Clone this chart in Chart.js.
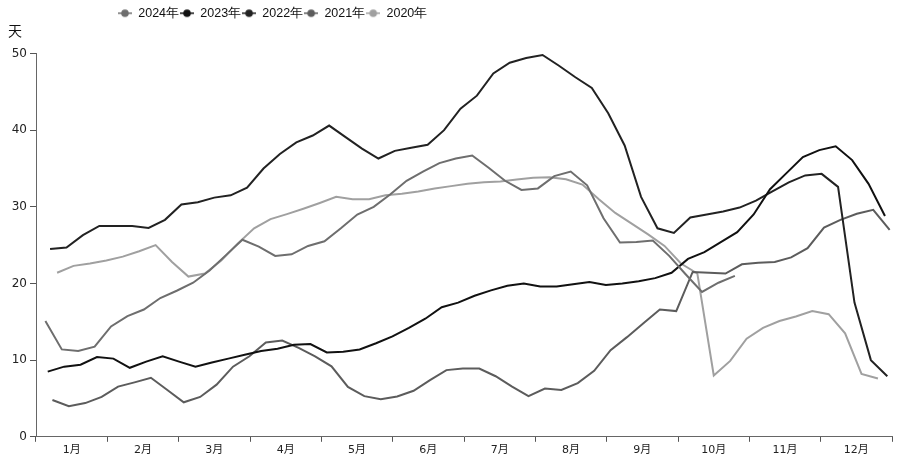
<!DOCTYPE html>
<html>
<head>
<meta charset="utf-8">
<script src="https://cdn.jsdelivr.net/npm/chart.js@4"></script>
<style>
  body { margin: 0; background: #fff; }
  #wrap { width: 900px; height: 461px; }
</style>
</head>
<body>
<div id="wrap"><canvas id="stockChart"></canvas></div>
<script>
const months = ['1月', '2月', '3月', '4月', '5月', '6月', '7月', '8月', '9月', '10月', '11月', '12月'];
const years = ['2024年', '2023年', '2022年', '2021年', '2020年'];
// first weekly observation of each year
const firstDates = ['2024-01-05', '2023-01-06', '2022-01-07', '2021-01-08', '2020-01-10'];
const yTicks = [0, 10, 20, 30, 40, 50];

const v2024 = [15.1, 11.4, 11.2, 11.75, 14.4, 15.75, 16.6, 18.1, 19.05, 20.1,
    21.7, 23.7, 25.7, 24.8, 23.6, 23.8, 24.9, 25.5, 27.2, 29.0,
    30.0, 31.6, 33.4, 34.6, 35.7, 36.3, 36.7, 35.1, 33.4, 32.2,
    32.4, 34.0, 34.6, 32.8, 28.5, 25.35, 25.4, 25.6, 23.6, 21.2,
    18.9, 20.1, 21.0];
const v2023 = [8.5, 9.15, 9.4, 10.4, 10.2, 9.0, 9.8, 10.5, 9.8, 9.15,
    9.7, 10.2, 10.7, 11.2, 11.5, 12.0, 12.1, 11.0, 11.1, 11.4,
    12.2, 13.1, 14.2, 15.4, 16.9, 17.5, 18.4, 19.1, 19.7, 20.0,
    19.6, 19.6, 19.9, 20.2, 19.8, 20.0, 20.3, 20.7, 21.4, 23.2,
    24.1, 25.4, 26.7, 29.0, 32.3, 34.4, 36.5, 37.4, 37.9, 36.1,
    33.0, 28.8];
const v2022 = [24.5, 24.7, 26.3, 27.5, 27.5, 27.5, 27.25, 28.3, 30.3, 30.6,
    31.2, 31.5, 32.5, 35.0, 36.9, 38.4, 39.3, 40.6, 39.1, 37.6,
    36.3, 37.3, 37.7, 38.1, 40.0, 42.8, 44.5, 47.4, 48.8, 49.4,
    49.8, 48.4, 46.9, 45.5, 42.2, 38.0, 31.3, 27.2, 26.6, 28.6,
    29.0, 29.4, 29.9, 30.8, 32.0, 33.2, 34.1, 34.3, 32.6, 17.5,
    10.0, 7.9];
const v2021 = [4.8, 4.0, 4.4, 5.2, 6.55, 7.1, 7.7, 6.1, 4.5, 5.2,
    6.8, 9.15, 10.5, 12.3, 12.55, 11.6, 10.5, 9.2, 6.5, 5.3,
    4.9, 5.25, 6.0, 7.4, 8.7, 8.9, 8.9, 7.9, 6.55, 5.3,
    6.3, 6.1, 7.0, 8.6, 11.3, 13.0, 14.8, 16.6, 16.4, 21.5,
    21.4, 21.3, 22.5, 22.7, 22.8, 23.4, 24.6, 27.3, 28.3, 29.1,
    29.6, 27.0];
const v2020 = [21.4, 22.3, 22.6, 23.0, 23.5, 24.2, 25.0, 22.8, 20.9, 21.3,
    23.0, 25.2, 27.2, 28.4, 29.05, 29.75, 30.5, 31.3, 31.0, 31.0,
    31.5, 31.7, 32.0, 32.4, 32.7, 33.0, 33.2, 33.3, 33.55, 33.8,
    33.85, 33.6, 32.9, 31.0, 29.2, 27.8, 26.4, 24.9, 22.6, 21.3,
    8.0, 9.9, 12.8, 14.2, 15.1, 15.7, 16.4, 16.0, 13.5, 8.2,
    7.6];

const seriesValues = [v2024, v2023, v2022, v2021, v2020];
const colors = ['#6e6e6e', '#111111', '#222222', '#5c5c5c', '#a0a0a0'];

// day of year (0 = 1 Jan) of each weekly point
function toPoints(values, firstDate) {
    const d = new Date(firstDate + 'T00:00:00Z');
    const jan1 = Date.UTC(d.getUTCFullYear(), 0, 1);
    const start = Math.round((d - jan1) / 86400000);
    return values.map((v, i) => ({ x: start + 7 * i, y: v }));
}

// legend marker: short line with a dot on it
function marker(color) {
    const c = document.createElement('canvas');
    c.width = 14;
    c.height = 10;
    const g = c.getContext('2d');
    g.strokeStyle = color;
    g.lineWidth = 1.5;
    g.beginPath();
    g.moveTo(0, 5);
    g.lineTo(14, 5);
    g.stroke();
    g.fillStyle = color;
    g.beginPath();
    g.arc(7, 5, 3.8, 0, Math.PI * 2);
    g.fill();
    return c;
}

const datasets = years.map((name, k) => ({
    label: name,
    data: toPoints(seriesValues[k], firstDates[k]),
    borderColor: colors[k],
    backgroundColor: colors[k],
    borderWidth: 2,
    pointRadius: 0,
    tension: 0,
    xAxisID: 'xw'
}));

// move the legend to where it sits in the original
const legendShift = {
    id: 'legendShift',
    afterLayout(chart) {
        chart.legend.left = 117;
    }
};

const ctx = document.getElementById('stockChart').getContext('2d');

new Chart(ctx, {
    type: 'line',
    data: {
        labels: months,
        datasets: datasets
    },
    plugins: [legendShift],
    options: {
        responsive: true,
        maintainAspectRatio: false,
        animation: false,
        layout: { padding: { left: 8, right: 8, top: 6, bottom: 2 } },
        plugins: {
            legend: {
                position: 'top',
                align: 'start',
                labels: {
                    usePointStyle: true,
                    pointStyleWidth: 14,
                    padding: 1,
                    color: '#111',
                    font: { family: "'Liberation Sans', Arial", size: 12.5 },
                    generateLabels(chart) {
                        const items = Chart.defaults.plugins.legend.labels.generateLabels(chart);
                        items.forEach((it, k) => { it.pointStyle = marker(colors[k]); });
                        return items;
                    }
                }
            },
            title: {
                display: true,
                text: '天',
                align: 'start',
                weight: 500,
                color: '#111',
                font: { family: "'Noto Sans CJK SC'", size: 14, weight: 'normal', lineHeight: 1 },
                padding: { top: -6, bottom: 16 }
            },
            tooltip: { enabled: false }
        },
        scales: {
            xw: {
                type: 'linear',
                display: false,
                min: 0,
                max: 365
            },
            x: {
                type: 'category',
                offset: true,
                grid: { display: true, drawOnChartArea: false, offset: true, tickLength: 5, color: '#555' },
                border: { color: '#666' },
                ticks: {
                    color: '#222',
                    autoSkip: false,
                    maxRotation: 0,
                    padding: 2,
                    font: { family: "'DejaVu Sans', 'Noto Sans CJK SC'", size: 11 }
                }
            },
            y: {
                min: 0,
                max: 50,
                afterBuildTicks(scale) {
                    scale.ticks = yTicks.map(v => ({ value: v }));
                },
                afterFit(scale) {
                    scale.width = 28;
                },
                grid: { drawOnChartArea: false, tickLength: 6, color: '#555' },
                border: { color: '#666' },
                ticks: {
                    color: '#222',
                    padding: 3,
                    font: { family: "'DejaVu Sans'", size: 12 }
                }
            }
        }
    }
});
</script>
</body>
</html>
